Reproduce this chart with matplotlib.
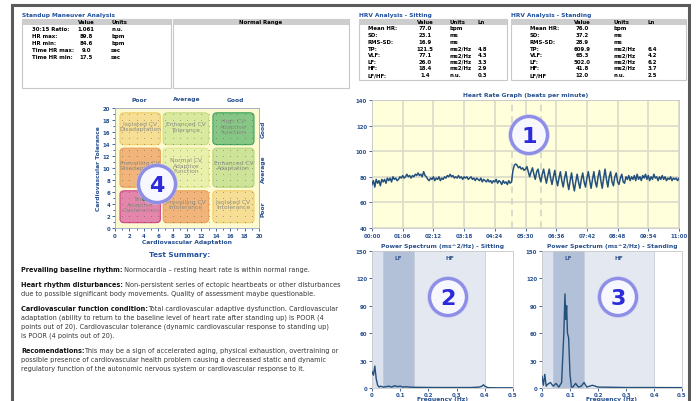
import numpy as np
import matplotlib
matplotlib.use("Agg")
from matplotlib import pyplot as plt
from matplotlib.patches import Rectangle, FancyBboxPatch, Circle

standup_labels = ["30:15 Ratio:", "HR max:", "HR min:", "Time HR max:", "Time HR min:"]
standup_values = ["1.061", "89.8", "84.6", "9.0", "17.5"]
standup_units = ["n.u.", "bpm", "bpm", "sec", "sec"]

hrv_labels = ["Mean HR:", "SD:", "RMS-SD:", "TP:", "VLF:", "LF:", "HF:", "LF/HF:"]
sit_values = ["77.0", "23.1", "16.9", "121.5", "77.1", "26.0", "18.4", "1.4"]
sit_units = ["bpm", "ms", "ms", "ms2/Hz", "ms2/Hz", "ms2/Hz", "ms2/Hz", "n.u."]
sit_ln = ["", "", "", "4.8", "4.3", "3.3", "2.9", "0.3"]
stand_labels = ["Mean HR:", "SD:", "RMS-SD:", "TP:", "VLF:", "LF:", "HF:", "LF/HF"]
stand_values = ["76.0", "37.2", "28.9", "609.9", "65.3", "502.0", "41.8", "12.0"]
stand_units = ["bpm", "ms", "ms", "ms2/Hz", "ms2/Hz", "ms2/Hz", "ms2/Hz", "n.u."]
stand_ln = ["", "", "", "6.4", "4.2", "6.2", "3.7", "2.5"]

# heart rate, one reading every 3 s from 00:00 to 11:00
hr_step = 3
hr_values = [
    74, 77, 72, 78, 75, 77, 73, 78, 76, 78, 75, 79, 77, 79, 76, 80, 78, 79, 77, 78,
    80, 79, 81, 79, 80, 82, 80, 81, 79, 81, 80, 82, 81, 83, 81, 82, 80, 84, 81, 80,
    78, 77, 79, 78, 80, 77, 79, 78, 80, 77, 79, 78, 80, 79, 81, 80, 82, 80, 81, 79,
    80, 79, 81, 79, 80, 78, 80, 79, 80, 78, 79, 80, 78, 79, 77, 79, 78, 77, 79, 76,
    78, 77, 76, 78, 76, 77, 75, 77, 76, 78, 75, 77, 76, 74, 77, 75, 76, 74, 77, 75,
    76, 85, 89, 90, 89, 87, 88, 86, 87, 85, 86, 88, 84, 80, 84, 87, 82, 78, 84, 86,
    80, 76, 82, 86, 80, 75, 81, 86, 79, 74, 80, 85, 78, 73, 79, 84, 77, 72, 79, 84,
    76, 70, 77, 83, 75, 69, 76, 82, 76, 71, 78, 83, 76, 72, 79, 84, 77, 71, 78, 84,
    76, 72, 80, 85, 77, 71, 79, 86, 78, 72, 80, 84, 76, 73, 80, 83, 76, 74, 79, 82,
    76, 75, 80, 78, 81, 77, 80, 78, 81, 77, 82, 78, 80, 77, 81, 79, 82, 78, 81, 77,
    80, 78, 82, 79, 80, 77, 80, 78, 81, 78, 80, 77, 79, 78, 80, 77, 79, 78, 79, 77,
    79,
]
hr_ticks = ["00:00", "01:06", "02:12", "03:18", "04:24", "05:30",
            "06:36", "07:42", "08:48", "09:54", "11:00"]
standup_marks = [302, 363]

sit_freq = [0, 0.005, 0.01, 0.015, 0.02, 0.025, 0.03, 0.04, 0.05, 0.06, 0.07, 0.08,
            0.09, 0.1, 0.11, 0.12, 0.13, 0.15, 0.2, 0.25, 0.3, 0.35, 0.38, 0.39,
            0.395, 0.4, 0.41, 0.42, 0.45, 0.5]
sit_power = [18, 14, 24, 10, 3, 1, 2, 1, 1.5, 2, 1, 2.5,
             1.5, 2, 1, 1.5, 1, 0.8, 0.6, 0.5, 0.5, 0.5, 1, 2,
             3.5, 2, 0.5, 0.3, 0.2, 0.2]
stand_freq = [0, 0.005, 0.01, 0.015, 0.02, 0.03, 0.04, 0.05, 0.06, 0.07, 0.075,
              0.078, 0.082, 0.085, 0.088, 0.091, 0.095, 0.1, 0.105, 0.11, 0.12,
              0.13, 0.14, 0.15, 0.16, 0.18, 0.2, 0.25, 0.3, 0.4, 0.5]
stand_power = [13, 3, 15, 2, 4, 6, 2, 5, 1, 6, 40,
               60, 103, 75, 90, 60, 55, 15, 1, 1, 5,
               1, 2, 6, 1, 3, 1, 0.8, 0.5, 0.5, 0.4]
bands = [(0.0, 0.04, "#dde3ee", ""), (0.04, 0.15, "#b2c1d7", "LF"), (0.15, 0.4, "#e3e8f1", "HF")]

quad_cols = ["Poor", "Average", "Good"]
quad_labels = [["Total\nAdaptive\nDysfunction", "Prevailing CV\nIntolerance", "Isolated CV\nIntolerance"],
               ["Prevailing CV\nDisadaptation", "Normal CV\nAdaptive\nFunction", "Enhanced CV\nAdaptation"],
               ["Isolated CV\nDisadaptation", "Enhanced CV\nTolerance", "High CV\nAdaptive\nFunction"]]
quad_fill = [["#e486ac", "#f1b47a", "#f6df95"],
             ["#f1b47a", "#e9f0ab", "#cde397"],
             ["#f6df95", "#d9e99e", "#86c785"]]
quad_edge = [["#d0508a", "#eaa560", "#f0d070"],
             ["#eaa560", "#dfe890", "#b8d880"],
             ["#f0d070", "#c8de88", "#4aa860"]]
score_adapt = 4
score_toler = 5

summary = [
    ("Prevailing baseline rhythm:", " Normocardia \u2013 resting heart rate is within normal range.", []),
    ("Heart rhythm disturbances:", " Non-persistent series of ectopic heartbeats or other disturbances",
     ["due to possible significant body movements. Quality of assessment maybe questionable."]),
    ("Cardiovascular function condition:", "Total cardiovascular adaptive dysfunction. Cardiovascular",
     ["adaptation (ability to return to the baseline level of heart rate after standing up) is POOR (4",
      "points out of 20). Cardiovascular tolerance (dynamic cardiovascular response to standing up)",
      "is POOR (4 points out of 20)."]),
    ("Recomendations:", "This may be a sign of accelerated aging, physical exhaustion, overtraining or",
     ["possible presence of cardiovascular health problem causing a decreased static and dynamic",
      "regulatory function of the autonomic nervous system or cardiovascular response to it."]),
]

# ---- figure ----
W, H = 698, 402
BLUE = "#27508e"
fig = plt.figure(figsize=(W / 100, H / 100), dpi=100)
fig.patch.set_facecolor("white")

def px_axes(x0, y0, x1, y1, z=1):
    return fig.add_axes([x0 / W, 1 - y1 / H, (x1 - x0) / W, (y1 - y0) / H], zorder=z)

bg = px_axes(0, 0, W, H, z=0)
bg.set_xlim(0, W)
bg.set_ylim(H, 0)
bg.axis("off")

# window frame
bg.plot([12, 689], [6, 6], color="#5a5a5a", lw=2.2, solid_capstyle="butt")
bg.plot([12, 12], [6, H], color="#5a5a5a", lw=2.2)
bg.plot([689, 689], [6, H], color="#5a5a5a", lw=2.2)

def table(x0, x1, y0, y1, title, cols, rows):
    bg.text(x0, 15, title, color="#1f4f9f", fontsize=4.2, fontweight="bold", va="center")
    bg.add_patch(Rectangle((x0, y0), x1 - x0, y1 - y0, fc="white", ec="#c8c8c8", lw=0.8))
    bg.add_patch(Rectangle((x0, y0), x1 - x0, 5.5, fc="#cdcdcd", ec="none"))
    for cx, name, ha, vals in cols:
        bg.text(cx, y0 + 2.8, name, fontsize=3.9, fontweight="bold", ha=ha, va="center")
        for i, v in enumerate(vals):
            bg.text(cx, rows[i], v, fontsize=3.9, fontweight="bold", ha=ha, va="center")

st_rows = [29.5, 36.5, 43.5, 50.5, 57.5]
table(22, 171, 20, 89, "Standup Maneuver Analysis",
      [(32, "", "left", standup_labels), (86, "Value", "center", standup_values),
       (111, "Units", "left", standup_units)], st_rows)
bg.add_patch(Rectangle((173, 20), 176, 69, fc="white", ec="#c8c8c8", lw=0.8))
bg.add_patch(Rectangle((173, 20), 176, 5.5, fc="#cdcdcd", ec="none"))
bg.text(261, 22.8, "Normal Range", fontsize=3.9, fontweight="bold", ha="center", va="center")

hrv_rows = [28.5, 35.5, 42.3, 49.2, 55.5, 62, 68.5, 75.5]
table(359, 507, 20, 81, "HRV Analysis - Sitting",
      [(368, "", "left", hrv_labels), (425, "Value", "center", sit_values),
       (449, "Units", "left", sit_units), (478, "Ln", "left", sit_ln)], hrv_rows)
table(511, 686, 20, 81, "HRV Analysis - Standing",
      [(530, "", "left", stand_labels), (582, "Value", "center", stand_values),
       (613, "Units", "left", stand_units), (648, "Ln", "left", stand_ln)], hrv_rows)

def style_ticks(ax, size=3.9):
    ax.tick_params(colors=BLUE, labelsize=size, length=2, width=0.6, pad=1.5)
    for lab in ax.get_xticklabels() + ax.get_yticklabels():
        lab.set_fontweight("bold")

# ---- quadrant chart ----
qa = px_axes(115, 109, 259, 229)
qa.set_xlim(0, 20)
qa.set_ylim(0, 20)
qa.set_facecolor("#fdfad0")
xedges = [(0.7, 6.3), (6.7, 13.0), (13.6, 19.3)]
yedges = [(0.9, 6.2), (6.8, 13.3), (13.9, 19.2)]
for r in range(3):
    for c in range(3):
        x0, x1 = xedges[c]
        y0, y1 = yedges[r]
        qa.add_patch(FancyBboxPatch((x0, y0), x1 - x0, y1 - y0,
                                    boxstyle="round,pad=0,rounding_size=0.6",
                                    fc=quad_fill[r][c], ec=quad_edge[r][c], lw=0.9))
        qa.text((x0 + x1) / 2, (y0 + y1) / 2 + 0.4, quad_labels[r][c], ha="center", va="center",
                fontsize=4.3, color="#8a8a80", linespacing=1.1)
gx, gy = np.meshgrid(np.arange(1, 20), np.arange(1, 20))
qa.scatter(gx.ravel(), gy.ravel(), s=0.15, color="#444444", zorder=3, lw=0)
qa.scatter([score_adapt], [score_toler], s=9, color="#3a8a3a", ec="#1f4f1f", lw=0.5, zorder=4)
qa.set_xticks(range(0, 21, 2))
qa.set_yticks(range(0, 21, 2))
qa.set_xticks(range(1, 20, 2), minor=True)
qa.set_yticks(range(1, 20, 2), minor=True)
qa.tick_params(which="minor", length=1.2, color=BLUE)
for s in qa.spines.values():
    s.set_color("#9aa6c0")
    s.set_linewidth(0.6)
style_ticks(qa)
qa.set_xlabel("Cardiovascular Adaptation", fontsize=4.3, color=BLUE, fontweight="bold", labelpad=0.5)
qa.set_ylabel("Cardiovascular Tolerance", fontsize=4.3, color=BLUE, fontweight="bold", labelpad=1)
for i, name in enumerate(quad_cols):
    qa.text((2 * i + 1) * 10 / 3, 21.5, name, ha="center", va="center", fontsize=4.3,
            color=BLUE, fontweight="bold")
    qa.text(20.6, (2 * i + 1) * 10 / 3, name, ha="center", va="center", fontsize=4.3,
            color=BLUE, fontweight="bold", rotation=90)

# ---- heart rate graph ----
ha_ = px_axes(372, 101, 679, 229)
t = np.arange(len(hr_values)) * hr_step
ha_.set_facecolor("#ffffdc")
ha_.plot(t, hr_values, color="#23507c", lw=1.1, zorder=3)
for m in standup_marks:
    ha_.axvline(m, color="#d5d5c8", lw=1.2, ls=(0, (4, 3)), zorder=2)
ha_.set_xlim(0, 660)
ha_.set_ylim(40, 140)
ha_.set_xticks(np.linspace(0, 660, len(hr_ticks)))
ha_.set_xticklabels(hr_ticks)
ha_.set_yticks(range(40, 141, 20))
ha_.grid(True, color="#dcdcc8", lw=1.2, zorder=1)
ha_.set_axisbelow(True)
for s in ha_.spines.values():
    s.set_color("#c8c8c8")
    s.set_linewidth(0.6)
style_ticks(ha_)
ha_.set_title("Heart Rate Graph (beats per minute)", fontsize=4.3, color=BLUE,
              fontweight="bold", pad=3)

# ---- power spectra ----
def spectrum(ax, freq, power, title):
    ax.set_xlim(0, 0.5)
    ax.set_ylim(0, 150)
    for f0, f1, col, lab in bands:
        ax.axvspan(f0, f1, color=col, lw=0, zorder=0)
        ax.axvline(f1, color="#c4ccd8", lw=0.6, zorder=0.5)
        if lab:
            ax.text((f0 + f1) / 2, 146, lab, ha="center", va="top", fontsize=4.2,
                    color="#3a5a90", fontweight="bold")
    ax.plot(freq, power, color="#23507c", lw=1.0, zorder=3)
    ax.set_xticks([0, 0.1, 0.2, 0.3, 0.4, 0.5])
    ax.set_xticklabels(["0", "0.1", "0.2", "0.3", "0.4", "0.5"])
    ax.set_yticks(range(0, 151, 30))
    for s in ax.spines.values():
        s.set_color("#c8c8c8")
        s.set_linewidth(0.6)
    style_ticks(ax)
    ax.tick_params(axis="x", pad=0.8)
    ax.set_title(title, fontsize=4.3, color=BLUE, fontweight="bold", pad=3)
    ax.set_xlabel("Frequency (Hz)", fontsize=4.3, color=BLUE, fontweight="bold", labelpad=-0.5)

spectrum(px_axes(372, 252, 513, 389), sit_freq, sit_power, "Power Spectrum (ms^2/Hz) - Sitting")
spectrum(px_axes(542, 252, 682, 389), stand_freq, stand_power, "Power Spectrum (ms^2/Hz) - Standing")

# ---- test summary ----
bg.text(180, 255, "Test Summary:", ha="center", va="center", fontsize=5.2,
        color="#2050a0", fontweight="bold")
y = 270
renderer = fig.canvas.get_renderer()
for head, first, rest in summary:
    ht = bg.text(21, y, head, fontsize=4.7, fontweight="bold", va="center", color="#111111")
    bb = ht.get_window_extent(renderer)
    bg.text(21 + bb.width, y, first, fontsize=4.7, va="center", color="#333333")
    for line in rest:
        y += 9
        bg.text(21, y, line, fontsize=4.7, va="center", color="#333333")
    y += 15

# ---- numbered markers ----
fg = px_axes(0, 0, W, H, z=10)
fg.set_xlim(0, W)
fg.set_ylim(H, 0)
fg.axis("off")
for num, (cx, cy) in zip("1234", [(529, 136), (448, 298), (618, 298), (157, 185)]):
    fg.add_patch(Circle((cx, cy), 21, fc="#c8c8f4", ec="none", alpha=0.5))
    fg.add_patch(Circle((cx, cy), 18.5, fc="#f7f7ff", ec="#8e8ee6", lw=2.4))
    fg.text(cx, cy + 1, num, ha="center", va="center", fontsize=16, fontweight="bold",
            color="#2b2bdc")

fig.savefig("out.png", dpi=100)
